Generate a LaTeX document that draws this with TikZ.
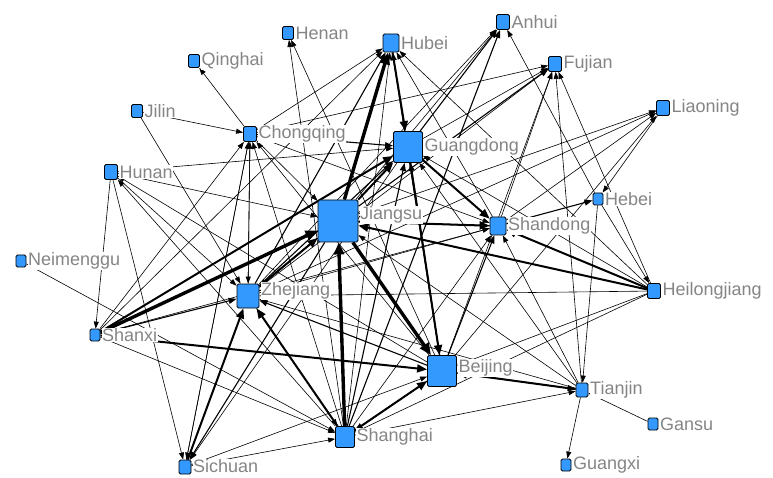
\documentclass[tikz,border=0pt]{standalone}
\usepackage{fontspec}
\setmainfont{Liberation Sans}
\usetikzlibrary{arrows.meta}
\definecolor{provblue}{HTML}{3399FF}
\definecolor{labgray}{HTML}{858585}
\pgfdeclarelayer{bg}
\pgfsetlayers{bg,main}
\tikzset{x=1pt, y=-1pt,
prov/.style={draw, fill=provblue, rounded corners=1.5pt, inner sep=0pt, line width=0.8pt,
  minimum width=#1, minimum height=#1+2pt},
prov/.default=11pt,
lbl/.style={text=labgray, font=\fontsize{18}{18}\selectfont, fill=white, inner sep=0.6pt},
every label/.style={lbl}, label distance=1pt,
ln/.style={line width=0.6pt, -{Triangle[length=7pt,width=5pt]}},
lnm/.style={line width=1.1pt, -{Triangle[length=8pt,width=6pt]}},
lnt/.style={line width=2pt, -{Triangle[length=10pt,width=8pt]}},
lnh/.style={line width=3.4pt, -{Triangle[length=12pt,width=10pt]}}}
\begin{document}
\begin{tikzpicture}
\useasboundingbox (0,0) rectangle (773,478);
\node[prov] (Henan) at (288,33) [label=right:Henan] {};
\node[prov=16pt] (Hubei) at (391,43) [label=right:Hubei] {};
\node[prov=13pt] (Anhui) at (503,22) [label=right:Anhui] {};
\node[prov=13pt] (Fujian) at (555,64) [label=right:Fujian] {};
\node[prov] (Qinghai) at (194,61) [label=right:Qinghai] {};
\node[prov=13pt] (Liaoning) at (663,108) [label=right:Liaoning] {};
\node[prov] (Jilin) at (137,111) [label=right:Jilin] {};
\node[prov=13pt] (Chongqing) at (250,134) [label=right:Chongqing] {};
\node[prov=29pt] (Guangdong) at (408,147) [label=right:Guangdong] {};
\node[prov=13pt] (Hunan) at (111,172) [label=right:Hunan] {};
\node[prov=10pt] (Hebei) at (598,199) [label=right:Hebei] {};
\node[prov=40pt] (Jiangsu) at (338,221) [label={[yshift=6pt]right:Jiangsu}] {};
\node[prov=16pt] (Shandong) at (498,226) [label=right:Shandong] {};
\node[prov=10pt] (Neimenggu) at (21,261) [label=right:Neimenggu] {};
\node[prov=13pt] (Heilongjiang) at (654,291) [label=right:Heilongjiang] {};
\node[prov=22pt] (Zhejiang) at (248,296) [label={[yshift=5pt]right:Zhejiang}] {};
\node[prov=10pt] (Shanxi) at (95,335) [label=right:Shanxi] {};
\node[prov=29pt] (Beijing) at (442,371) [label={[yshift=3pt]right:Beijing}] {};
\node[prov=12pt] (Tianjin) at (582,390) [label=right:Tianjin] {};
\node[prov=10pt] (Gansu) at (653,424) [label=right:Gansu] {};
\node[prov=19pt] (Shanghai) at (345,437) [label=right:Shanghai] {};
\node[prov=12pt] (Sichuan) at (185,467) [label={[yshift=1pt]right:Sichuan}] {};
\node[prov=10pt] (Guangxi) at (566,465) [label=right:Guangxi] {};
\begin{pgfonlayer}{bg}
\path
  (Chongqing) edge[ln] (Qinghai)
              edge[ln] (Sichuan)
              edge[lnm] (Guangdong)
              edge[ln] (Hubei)
              edge[ln] (Fujian)
              edge[ln] (Jiangsu)
              edge[ln] (Zhejiang)
              edge[ln] (Shandong)
  (Jilin) edge[ln] (Chongqing)
          edge[ln] (Zhejiang)
  (Shanghai) edge[ln] (Henan)
             edge[lnh] (Jiangsu)
             edge[lnt] (Zhejiang)
             edge[lnt] (Beijing)
             edge[lnm] (Anhui)
             edge[lnm] (Guangdong)
             edge[ln] (Hubei)
             edge[ln] (Hunan)
             edge[ln] (Shandong)
             edge[ln] (Tianjin)
             edge[ln] (Chongqing)
  (Beijing) edge[ln] (Henan)
            edge[lnm] (Hubei)
            edge[ln] (Fujian)
            edge[ln] (Liaoning)
            edge[ln] (Hunan)
            edge[lnm] (Zhejiang)
            edge[lnm] (Shanghai)
            edge[lnm] (Tianjin)
            edge[lnm] (Shandong)
            edge[ln] (Chongqing)
            edge[lnm] (Guangdong)
  (Jiangsu) edge[lnh] (Hubei)
            edge[lnt] (Guangdong)
            edge[lnh] (Beijing)
            edge[lnt] (Shandong)
            edge[ln] (Anhui)
            edge[lnm] (Fujian)
            edge[ln] (Liaoning)
            edge[lnm] (Sichuan)
            edge[lnm] (Zhejiang)
  (Hubei) edge[lnt] (Guangdong)
  (Shandong) edge[ln] (Hubei)
             edge[ln] (Fujian)
             edge[ln] (Liaoning)
             edge[lnm] (Hebei)
             edge[lnm] (Jiangsu)
  (Shanxi) edge[ln] (Hubei)
           edge[lnh] (Jiangsu)
           edge[lnt] (Guangdong)
           edge[lnm] (Zhejiang)
           edge[lnt] (Beijing)
           edge[ln] (Shanghai)
           edge[ln] (Shandong)
           edge[ln] (Chongqing)
  (Zhejiang) edge[lnm] (Hubei)
             edge[ln] (Anhui)
             edge[ln] (Fujian)
             edge[ln] (Liaoning)
             edge[lnm] (Guangdong)
             edge[lnt] (Jiangsu)
             edge[ln] (Shandong)
             edge[ln] (Shanghai)
             edge[ln] (Chongqing)
  (Guangdong) edge[lnm] (Anhui)
              edge[ln] (Fujian)
              edge[lnt] (Beijing)
              edge[lnt] (Shandong)
              edge[ln] (Sichuan)
  (Hebei) edge[ln] (Anhui)
          edge[ln] (Tianjin)
          edge[ln] (Heilongjiang)
  (Tianjin) edge[ln] (Fujian)
            edge[ln] (Guangxi)
            edge[lnt] (Beijing)
            edge[ln] (Shandong)
            edge[ln] (Jiangsu)
            edge[ln] (Zhejiang)
            edge[ln] (Guangdong)
  (Liaoning) edge[ln] (Hebei)
  (Hunan) edge[ln] (Guangdong)
          edge[ln] (Jiangsu)
          edge[ln] (Shanxi)
          edge[ln] (Sichuan)
          edge[ln] (Zhejiang)
  (Neimenggu) edge[ln] (Shanghai)
  (Sichuan) edge[lnt] (Zhejiang)
            edge[ln] (Shanghai)
            edge[ln] (Beijing)
            edge[ln] (Chongqing)
  (Gansu) edge[ln] (Tianjin)
  (Heilongjiang) edge[lnt] (Jiangsu)
                 edge[lnt] (Shandong)
                 edge[ln] (Zhejiang)
                 edge[ln] (Beijing)
                 edge[ln] (Guangdong)
                 edge[ln] (Shanghai)
                 edge[ln] (Hubei)
                 edge[ln] (Fujian);
\end{pgfonlayer}
\end{tikzpicture}
\end{document}
